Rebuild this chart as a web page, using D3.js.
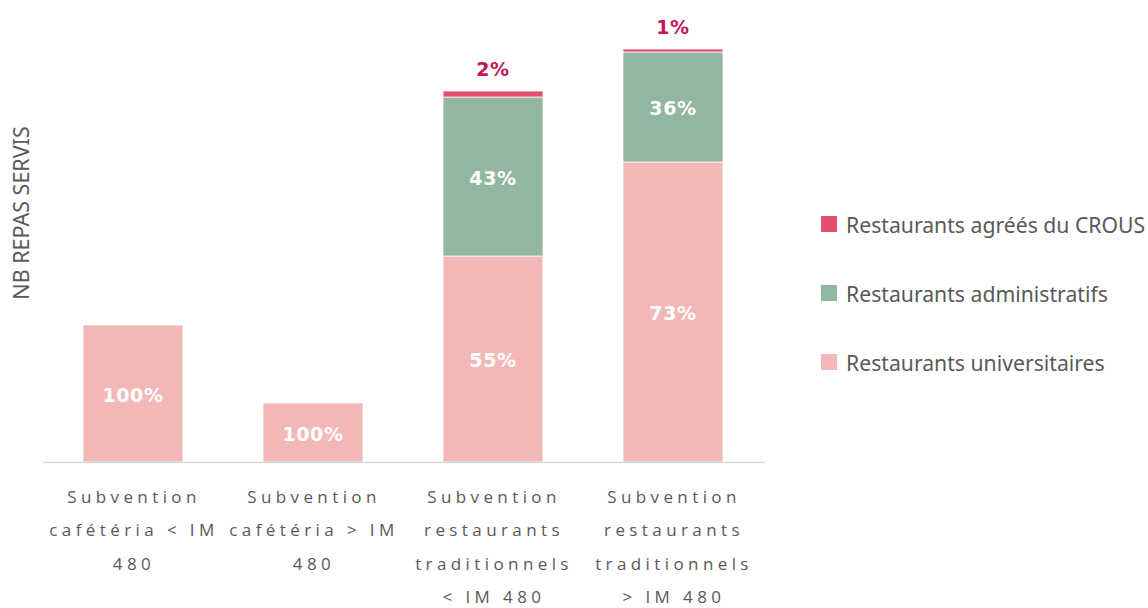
<!DOCTYPE html>
<html><head><meta charset="utf-8">
<script src="https://cdn.jsdelivr.net/npm/d3@7"></script>
<style>body{margin:0;background:#fff}svg{display:block}</style>
</head><body>
<svg id="c" width="1148" height="608"></svg>
<script>
const categories = ["c1","c2","c3","c4"];
const tickLabels = [
  ["Subvention","cafétéria < IM","480"],
  ["Subvention","cafétéria > IM","480"],
  ["Subvention","restaurants","traditionnels","< IM 480"],
  ["Subvention","restaurants","traditionnels","> IM 480"]
];
const seriesNames = ["Restaurants universitaires","Restaurants administratifs","Restaurants agréés du CROUS"];
const universitaires = [137, 59, 206, 300];
const administratifs = [0, 0, 159, 110];
const agrees = [0, 0, 6, 3];
const labelsUniv = ["100%","100%","55%","73%"];
const labelsAdmin = ["","","43%","36%"];
const labelsAgrees = ["","","2%","1%"];
const colors = ["#F2B8B8","#92B6A0","#E24F6F"];

const svg = d3.select("#c");
const x = d3.scaleBand().domain(categories).range([43,763]).paddingInner(0.4444).paddingOuter(0.2222);
const y = d3.scaleLinear().domain([0,413]).range([462,49]);

const rows = categories.map((c,i)=>({cat:c, s0:universitaires[i], s1:administratifs[i], s2:agrees[i]}));
const stack = d3.stack().keys(["s0","s1","s2"])(rows);
const labs = [labelsUniv, labelsAdmin, labelsAgrees];

stack.forEach((layer,li)=>{
  svg.append("g").selectAll("rect").data(layer).join("rect")
    .attr("x", d=>x(d.data.cat)).attr("width", x.bandwidth())
    .attr("y", d=>y(d[1])).attr("height", d=>Math.max(0,y(d[0])-y(d[1])))
    .attr("fill", colors[li]).attr("stroke","#fff").attr("stroke-width",0.75);
});
// inside labels
[0,1].forEach(li=>{
  svg.append("g").selectAll("text").data(stack[li]).join("text")
    .attr("x", d=>x(d.data.cat)+x.bandwidth()/2)
    .attr("y", d=>(y(d[0])+y(d[1]))/2+1)
    .attr("text-anchor","middle").attr("dominant-baseline","central")
    .attr("fill","#fff").attr("font-family","DejaVu Sans").attr("font-weight","bold")
    .attr("font-size",19).attr("letter-spacing",0.6)
    .text((d,i)=>labs[li][i]);
});
// top labels
svg.append("g").selectAll("text").data(stack[2]).join("text")
  .attr("x", d=>x(d.data.cat)+x.bandwidth()/2)
  .attr("y", d=>y(d[1])-22)
  .attr("text-anchor","middle").attr("dominant-baseline","central")
  .attr("fill","#C2185B").attr("font-family","DejaVu Sans").attr("font-weight","bold")
  .attr("font-size",19).attr("letter-spacing",0.6)
  .text((d,i)=>labelsAgrees[i]);

// baseline
svg.append("line").attr("x1",43).attr("x2",765).attr("y1",y(0)+0.5).attr("y2",y(0)+0.5)
  .attr("stroke","#D9D9D9").attr("stroke-width",1.5);

// category labels
const tl = svg.append("g").selectAll("text").data(categories).join("text")
  .attr("text-anchor","middle").attr("fill","#595959")
  .attr("font-family","Open Sans").attr("font-size",17).attr("letter-spacing",4.4);
tl.each(function(c,i){
  const t = d3.select(this);
  tickLabels[i].forEach((line,j)=>{
    t.append("tspan").attr("x", x(c)+x.bandwidth()/2+1).attr("y", 503+j*33.3).text(line);
  });
});

// y axis title
svg.append("text").attr("transform","translate(29,213) rotate(-90)")
  .attr("text-anchor","middle").attr("fill","#595959")
  .attr("font-family","Noto Sans").attr("font-size",21.5).text("NB REPAS SERVIS");

// legend
const leg = [2,1,0];
leg.forEach((si,k)=>{
  const cy = 224 + k*69;
  svg.append("rect").attr("x",821).attr("y",cy-8).attr("width",16).attr("height",16).attr("fill",colors[si]);
  svg.append("text").attr("x",846).attr("y",cy).attr("dominant-baseline","central")
    .attr("fill","#595959").attr("font-family","Noto Sans").attr("font-size",21.2).text(seriesNames[si]);
});
</script>
</body></html>
